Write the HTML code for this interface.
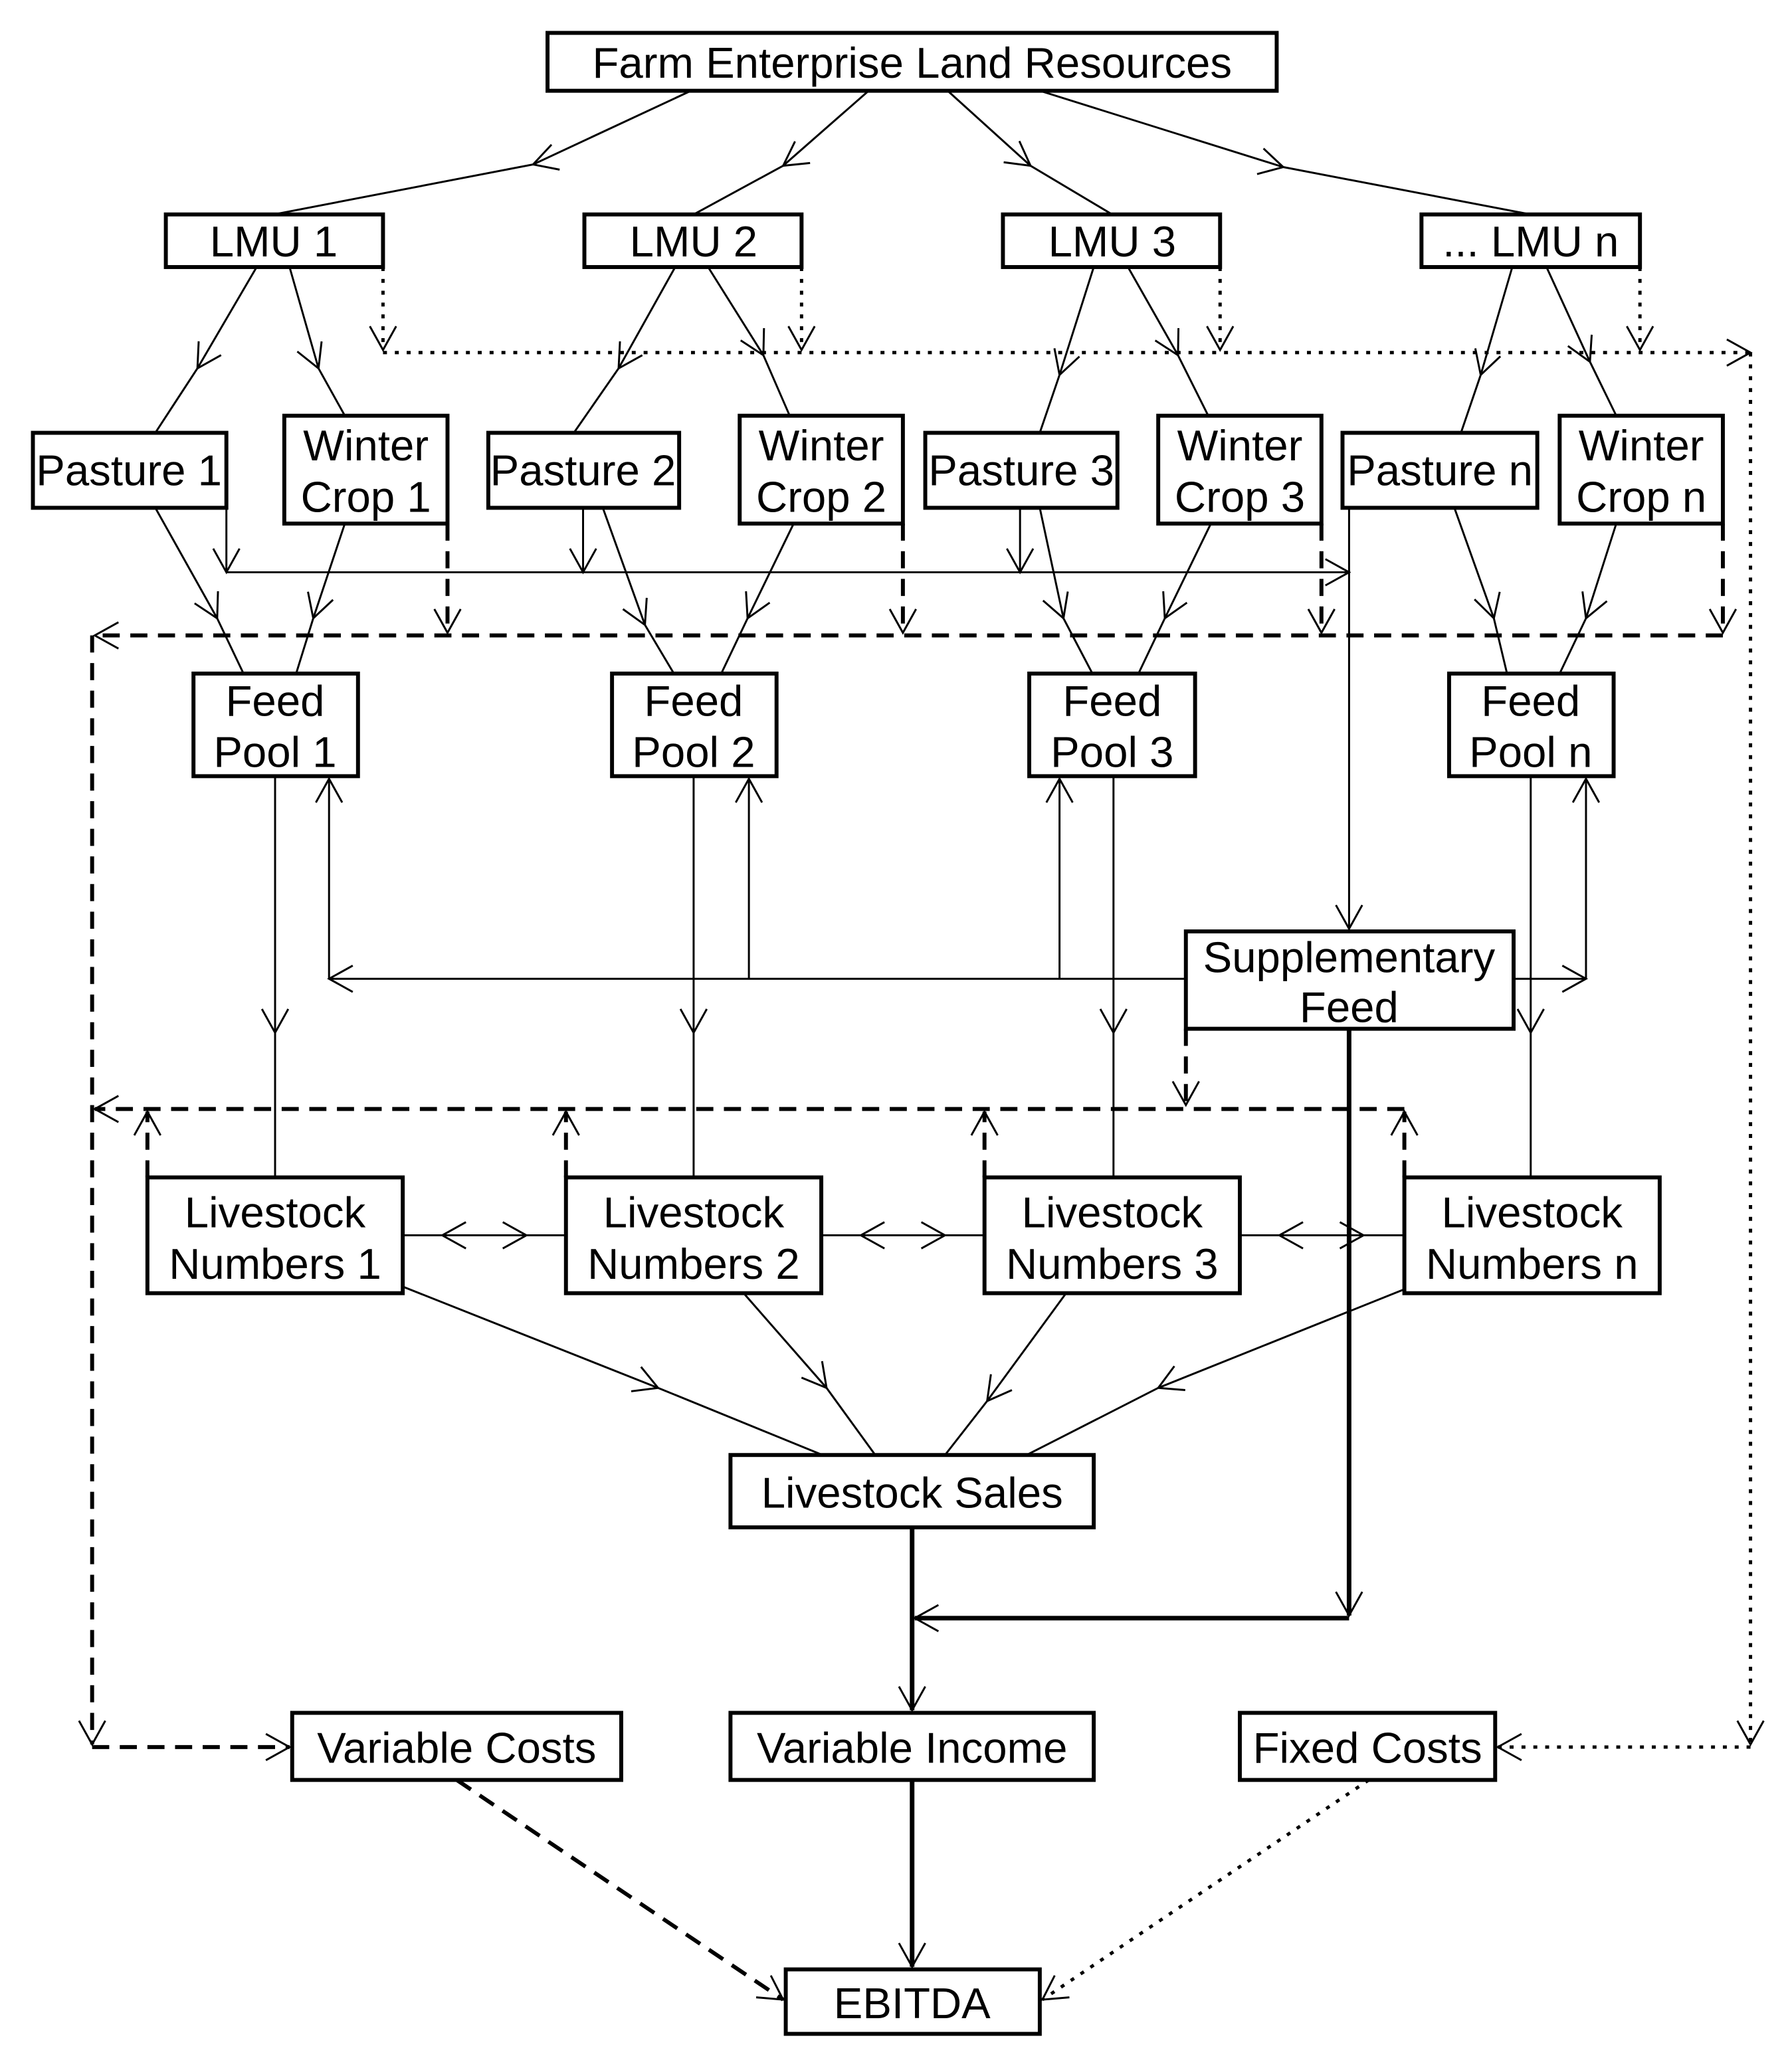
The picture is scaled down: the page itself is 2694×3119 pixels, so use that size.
<!DOCTYPE html>
<html><head><meta charset="utf-8"><style>
html,body{margin:0;padding:0;background:#fff}
svg{display:block}
text{font-family:"Liberation Sans",sans-serif;font-size:33px;fill:#000}
</style></head><body>
<svg width="2694" height="3119" viewBox="0 0 1360 1575" preserveAspectRatio="none" xmlns="http://www.w3.org/2000/svg">
<defs>
<marker id="a" markerUnits="userSpaceOnUse" markerWidth="40" markerHeight="40" refX="0" refY="0" orient="auto" viewBox="-20 -20 40 40" style="overflow:visible">
<path d="M-18,-10 L0,0 L-18,10" fill="none" stroke="#000" stroke-width="1.5"/>
</marker>
</defs>
<g fill="none" stroke="#000" stroke-width="1.5">
<path d="M525,69 L405,125 L208,163" marker-mid="url(#a)"/>
<path d="M660,69 L595,126 L527,163" marker-mid="url(#a)"/>
<path d="M720,69 L783,126 L845,163" marker-mid="url(#a)"/>
<path d="M790,69 L975,127 L1163,163" marker-mid="url(#a)"/>
<path d="M195,203 L150,280 L118,329" marker-mid="url(#a)"/>
<path d="M220,203 L242,280 L262,316" marker-mid="url(#a)"/>
<path d="M513,203 L470,280 L436,329" marker-mid="url(#a)"/>
<path d="M538,203 L580,270 L600,316" marker-mid="url(#a)"/>
<path d="M831,203 L805,285 L790,329" marker-mid="url(#a)"/>
<path d="M857,203 L895,270 L918,316" marker-mid="url(#a)"/>
<path d="M1149,203 L1125,285 L1110,329" marker-mid="url(#a)"/>
<path d="M1175,203 L1208,275 L1228,316" marker-mid="url(#a)"/>
<path d="M118,386 L165,470 L185,512" marker-mid="url(#a)"/>
<path d="M262,398 L238,470 L225,512" marker-mid="url(#a)"/>
<path d="M458,386 L490,475 L512,512" marker-mid="url(#a)"/>
<path d="M603,398 L568,470 L548,512" marker-mid="url(#a)"/>
<path d="M790,386 L808,470 L830,512" marker-mid="url(#a)"/>
<path d="M920,398 L885,470 L865,512" marker-mid="url(#a)"/>
<path d="M1105,386 L1135,470 L1145,512" marker-mid="url(#a)"/>
<path d="M1228,398 L1205,470 L1185,512" marker-mid="url(#a)"/>
<path d="M172,386 L172,435" marker-end="url(#a)"/>
<path d="M443,386 L443,435" marker-end="url(#a)"/>
<path d="M775,386 L775,435" marker-end="url(#a)"/>
<path d="M172,435 L1025,435" marker-end="url(#a)"/>
<path d="M1025,386 L1025,706" marker-end="url(#a)"/>
<path d="M209,590 L209,785 L209,895" marker-mid="url(#a)"/>
<path d="M527,590 L527,785 L527,895" marker-mid="url(#a)"/>
<path d="M846,590 L846,785 L846,895" marker-mid="url(#a)"/>
<path d="M1163,590 L1163,785 L1163,895" marker-mid="url(#a)"/>
<path d="M901,744 L250,744" marker-end="url(#a)"/>
<path d="M250,744 L250,592" marker-end="url(#a)"/>
<path d="M569,744 L569,592" marker-end="url(#a)"/>
<path d="M805,744 L805,592" marker-end="url(#a)"/>
<path d="M1150,744 L1205,744" marker-end="url(#a)"/>
<path d="M1205,744 L1205,592" marker-end="url(#a)"/>
<path d="M306,939 L400,939" marker-end="url(#a)"/><path d="M430,939 L336,939" marker-end="url(#a)"/>
<path d="M624,939 L718,939" marker-end="url(#a)"/><path d="M748,939 L654,939" marker-end="url(#a)"/>
<path d="M942,939 L1036,939" marker-end="url(#a)"/><path d="M1067,939 L972,939" marker-end="url(#a)"/>
<path d="M306,978 L500,1055 L625,1106" marker-mid="url(#a)"/>
<path d="M565,983 L628,1055 L665,1106" marker-mid="url(#a)"/>
<path d="M810,983 L750,1065 L718,1106" marker-mid="url(#a)"/>
<path d="M1067,980 L880,1055 L780,1106" marker-mid="url(#a)"/>
</g>
<g fill="none" stroke="#000" stroke-width="3.5">
<path d="M1025,782 L1025,1228" marker-end="url(#a)"/>
<path d="M1025,1230 L695,1230" marker-end="url(#a)"/>
<path d="M693,1161 L693,1300" marker-end="url(#a)"/>
<path d="M693,1353 L693,1495" marker-end="url(#a)"/>
</g>
<g fill="none" stroke="#000" stroke-width="2.5" stroke-dasharray="3,6">
<path d="M291,203 L291,266" marker-end="url(#a)"/>
<path d="M609,203 L609,266" marker-end="url(#a)"/>
<path d="M927,203 L927,266" marker-end="url(#a)"/>
<path d="M1246,203 L1246,266" marker-end="url(#a)"/>
<path d="M291,268 L1330,268" marker-end="url(#a)"/>
<path d="M1330,268 L1330,1326" marker-end="url(#a)"/>
<path d="M1330,1328 L1138,1328" marker-end="url(#a)"/>
<path d="M1040,1353 L792,1520" marker-end="url(#a)"/>
</g>
<g fill="none" stroke="#000" stroke-width="3" stroke-dasharray="13,8">
<path d="M340,398 L340,481" marker-end="url(#a)"/>
<path d="M686,398 L686,481" marker-end="url(#a)"/>
<path d="M1004,398 L1004,481" marker-end="url(#a)"/>
<path d="M1309,398 L1309,481" marker-end="url(#a)"/>
<path d="M1309,483 L72,483" marker-end="url(#a)"/>
<path d="M70,483 L70,1326" marker-end="url(#a)"/>
<path d="M70,1328 L220,1328" marker-end="url(#a)"/>
<path d="M901,782 L901,840" marker-end="url(#a)"/>
<path d="M1067,843 L72,843" marker-end="url(#a)"/>
<path d="M112,895 L112,845" marker-end="url(#a)"/>
<path d="M430,895 L430,845" marker-end="url(#a)"/>
<path d="M748,895 L748,845" marker-end="url(#a)"/>
<path d="M1067,895 L1067,845" marker-end="url(#a)"/>
<path d="M347,1353 L595,1520" marker-end="url(#a)"/>
</g>
<g fill="#fff" stroke="#000" stroke-width="3">
<rect x="416" y="25" width="554" height="44"/>
<rect x="126" y="163" width="165" height="40"/><rect x="444" y="163" width="165" height="40"/>
<rect x="762" y="163" width="165" height="40"/><rect x="1080" y="163" width="166" height="40"/>
<rect x="25" y="329" width="147" height="57"/><rect x="216" y="316" width="124" height="82"/>
<rect x="371" y="329" width="145" height="57"/><rect x="562" y="316" width="124" height="82"/>
<rect x="703" y="329" width="146" height="57"/><rect x="880" y="316" width="124" height="82"/>
<rect x="1020" y="329" width="148" height="57"/><rect x="1185" y="316" width="124" height="82"/>
<rect x="147" y="512" width="125" height="78"/><rect x="465" y="512" width="125" height="78"/>
<rect x="782" y="512" width="126" height="78"/><rect x="1101" y="512" width="125" height="78"/>
<rect x="901" y="708" width="249" height="74"/>
<rect x="112" y="895" width="194" height="88"/><rect x="430" y="895" width="194" height="88"/>
<rect x="748" y="895" width="194" height="88"/><rect x="1067" y="895" width="194" height="88"/>
<rect x="555" y="1106" width="276" height="55"/>
<rect x="222" y="1302" width="250" height="51"/><rect x="555" y="1302" width="276" height="51"/>
<rect x="942" y="1302" width="194" height="51"/>
<rect x="597" y="1497" width="193" height="49"/>
</g>
<g text-anchor="middle">
<text x="693" y="59">Farm Enterprise Land Resources</text>
<text x="208" y="195">LMU 1</text><text x="527" y="195">LMU 2</text>
<text x="845" y="195">LMU 3</text><text x="1163" y="195">... LMU n</text>
<text x="98" y="369">Pasture 1</text><text x="443" y="369">Pasture 2</text>
<text x="776" y="369">Pasture 3</text><text x="1094" y="369">Pasture n</text>
<text x="278" y="350">Winter</text><text x="278" y="389">Crop 1</text>
<text x="624" y="350">Winter</text><text x="624" y="389">Crop 2</text>
<text x="942" y="350">Winter</text><text x="942" y="389">Crop 3</text>
<text x="1247" y="350">Winter</text><text x="1247" y="389">Crop n</text>
<text x="209" y="544">Feed</text><text x="209" y="583">Pool 1</text>
<text x="527" y="544">Feed</text><text x="527" y="583">Pool 2</text>
<text x="845" y="544">Feed</text><text x="845" y="583">Pool 3</text>
<text x="1163" y="544">Feed</text><text x="1163" y="583">Pool n</text>
<text x="1025" y="739">Supplementary</text><text x="1025" y="777">Feed</text>
<text x="209" y="933">Livestock</text><text x="209" y="972">Numbers 1</text>
<text x="527" y="933">Livestock</text><text x="527" y="972">Numbers 2</text>
<text x="845" y="933">Livestock</text><text x="845" y="972">Numbers 3</text>
<text x="1164" y="933">Livestock</text><text x="1164" y="972">Numbers n</text>
<text x="693" y="1146">Livestock Sales</text>
<text x="347" y="1340">Variable Costs</text>
<text x="693" y="1340">Variable Income</text>
<text x="1039" y="1340">Fixed Costs</text>
<text x="693" y="1534">EBITDA</text>
</g>
</svg>
</body></html>
